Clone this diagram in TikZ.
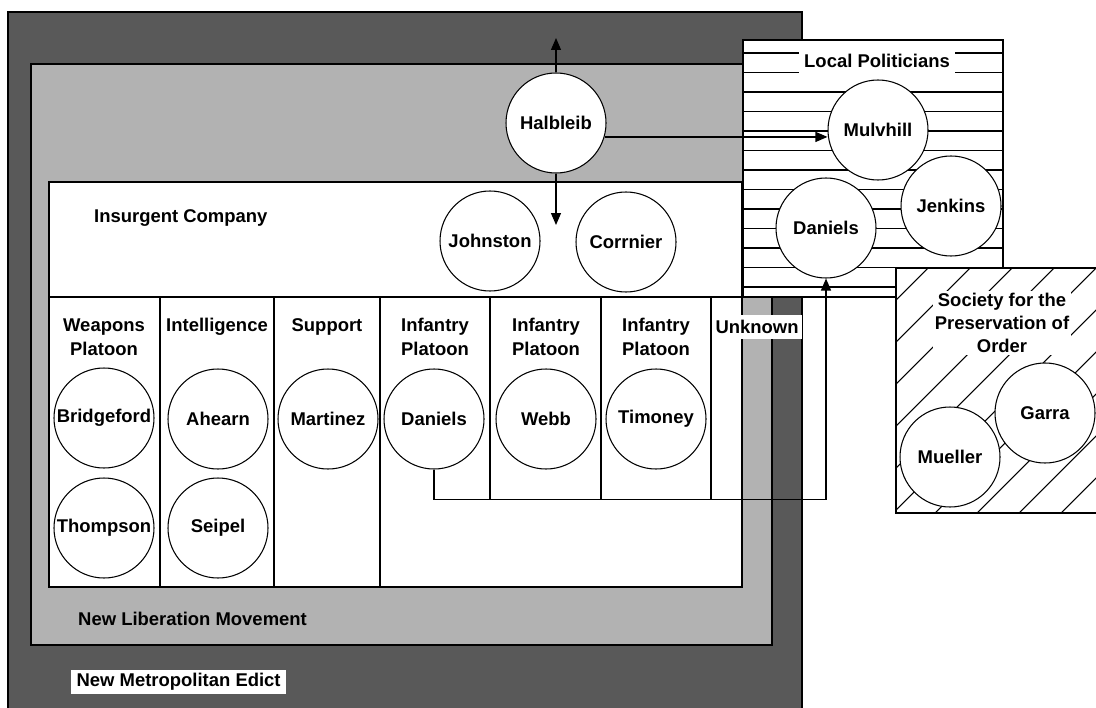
\documentclass[tikz,border=0pt]{standalone}
\usepackage{fontspec}
\setmainfont{Liberation Sans}
\usetikzlibrary{arrows.meta}

\begin{document}
\begin{tikzpicture}[x=0.2mm, y=-0.2mm,
  every node/.style={font=\bfseries\fontsize{10.5}{13.8}\selectfont},
  person/.style={circle, draw, fill=white, line width=0.6pt, minimum size=2cm, inner sep=0pt},
  head/.style={align=center, anchor=north, inner sep=0pt},
  tag/.style={fill=white, inner xsep=3pt, inner ysep=3pt},
  box/.style={draw, line width=0.7pt},
  hatch/.style={line width=0.6pt},
  arr/.style={line width=0.7pt, -{Triangle[length=2.4mm, width=2mm]}}]
  \useasboundingbox (0,0) rectangle (1096,707);
  \clip (0,0) rectangle (1096,707);
  \fill[white] (0,0) rectangle (1096,707);
  \draw[box, fill=black!65] (8,12) rectangle (802,720);
  \draw[box, fill=black!30] (31,64) rectangle (772,645);
  \draw[box, fill=white] (49,182) rectangle (742,587);
  \draw[box] (49,297) -- (742,297);
  \foreach \x in {160,274,380} \draw[box] (\x,297) -- (\x,587);
  \foreach \x in {490,601,711} \draw[box] (\x,297) -- (\x,499);

  \node[anchor=west] (company) at (88,218) {Insurgent Company};
  \node[anchor=west] (nlm) at (72,619) {New Liberation Movement};
  \node[tag, anchor=west, inner ysep=2pt] (nme) at (71,682) {New Metropolitan Edict};

  \node[head] (weapons) at (104,318) {Weapons\\Platoon};
  \node[head] (intel) at (217,318) {Intelligence};
  \node[head] (support) at (327,318) {Support};
  \node[head] (inf1) at (435,318) {Infantry\\Platoon};
  \node[head] (inf2) at (546,318) {Infantry\\Platoon};
  \node[head] (inf3) at (656,318) {Infantry\\Platoon};
  \node[fill=white, inner xsep=2pt, inner ysep=3pt] (unknown) at (757,327) {Unknown};

  \node[person] (bridgeford) at (104,418) {Bridgeford};
  \node[person] (thompson) at (104,528) {Thompson};
  \node[person] (ahearn) at (218,419) {Ahearn};
  \node[person] (seipel) at (218,528) {Seipel};
  \node[person] (martinez) at (328,419) {Martinez};
  \node[person] (daniels) at (434,419) {Daniels};
  \node[person] (webb) at (546,419) {Webb};
  \node[person] (timoney) at (656,419) {Timoney};
  \node[person] (johnston) at (490,241) {Johnston};
  \node[person] (corrnier) at (626,242) {Corrnier};
  \node[person] (halbleib) at (556,123) {Halbleib};

  \begin{scope}
    \clip (743,40) rectangle (1003,297);
    \fill[white] (743,40) rectangle (1003,297);
    \foreach \y in {53,72.5,...,290} \draw[hatch] (743,\y) -- (1003,\y);
  \end{scope}
  \draw[box] (743,40) rectangle (1003,297);
  \node[tag] (localpol) at (877,61) {Local Politicians};
  \node[person] (mulvhill) at (878,130) {Mulvhill};
  \node[person] (jenkins) at (951,206) {Jenkins};
  \node[person] (danielslp) at (826,228) {Daniels};

  \begin{scope}
    \clip (896,268) rectangle (1100,513);
    \fill[white] (896,268) rectangle (1100,513);
    \foreach \x in {599,641,...,1100} \draw[hatch] (\x,513) -- ++(300,-300);
  \end{scope}
  \draw[box] (896,268) rectangle (1100,513);
  \node[tag, align=center, inner sep=1pt, font=\bfseries\fontsize{10.5}{13.3}\selectfont] (society) at (1002,323) {Society for the\\Preservation of\\Order};
  \node[person] (mueller) at (950,457) {Mueller};
  \node[person] (garra) at (1045,413) {Garra};

  \coordinate (up) at (556,38);
  \coordinate (down) at (556,225);
  \draw[arr] (halbleib.north) -- (up);
  \draw[arr] (halbleib.south) -- (down);
  \draw[arr] (halbleib.-16) -- (halbleib.-16 -| mulvhill.west);
  \draw[arr] (daniels.south) -- ++(0,30) -| (danielslp.south);
\end{tikzpicture}
\end{document}
